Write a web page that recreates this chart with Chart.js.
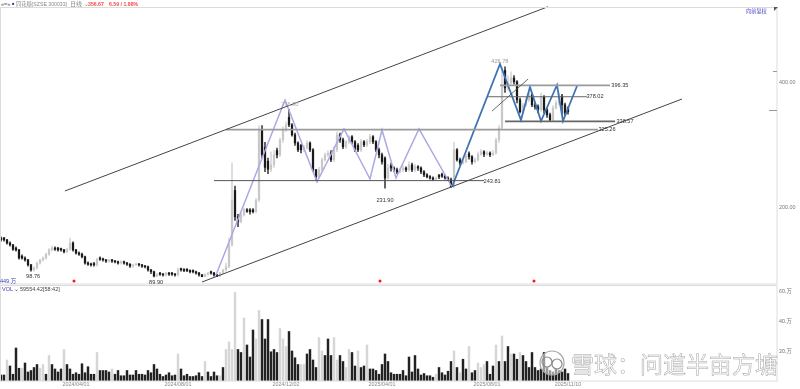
<!DOCTYPE html>
<html>
<head>
<meta charset="utf-8">
<script src="https://cdn.jsdelivr.net/npm/chart.js@4"></script>
<style>
  html, body { margin: 0; background: #fff; }
  #page { position: relative; width: 800px; height: 389px; overflow: hidden; font-family: "Liberation Sans", "Noto Sans CJK SC", sans-serif; }
  canvas { position: absolute; left: 0; }
  .t { position: absolute; white-space: nowrap; font-size: 5.5px; line-height: 8px; color: #888; }
  .mark { position: absolute; left: 774px; top: 7px; width: 0; height: 0; border-left: 4px solid #555; border-bottom: 4px solid transparent; }
  #wm { position: absolute; left: 571px; top: 350px; font: 23px/26px "Noto Sans CJK SC", sans-serif; color: rgba(255,255,255,.75); -webkit-text-stroke: .5px #a4a4a4; white-space: nowrap; }
  #logo { position: absolute; left: 538px; top: 349px; }
</style>
</head>
<body>
<div id="page">
  <canvas id="mainChart" width="800" height="285" style="top:0"></canvas>
  <canvas id="volChart" width="800" height="104" style="top:285px"></canvas>

  <div class="t" style="left:1px;top:0;color:#555">«=»</div>
  <div class="t" style="left:12px;top:0;color:#1b3f9a;font-size:4px">■</div>
  <div class="t" style="left:16px;top:0;font-size:5.2px">同花顺(SZSE 300033)</div>
  <div class="t" style="left:70px;top:0;font-size:6px">日线 ⌄</div>
  <div class="t" style="left:88px;top:0;color:#f04b4b;font-weight:bold;font-size:5.2px">356.67</div>
  <div class="t" style="left:109px;top:0;color:#f04b4b;font-weight:bold;font-size:5.2px">6.59 / 1.88%</div>
  <div class="t" style="left:746px;top:7px;color:#4a4ac0;font-size:5.2px">向前复权</div>
  <div class="mark"></div>
  <div class="t" style="left:0;top:277px;color:#3a3ab0">449.万</div>
  <div class="t" style="left:2px;top:285px;color:#3a3ab0">VOL ⌄</div>
  <div class="t" style="left:20px;top:285px;color:#444">59554.42[58:42]</div>

  <svg id="logo" width="30" height="30" viewBox="0 0 30 30">
    <circle cx="14" cy="14" r="12" fill="rgba(255,255,255,.55)" stroke="#a4a4a4" stroke-width="1.2"/>
    <circle cx="9" cy="13" r="5" fill="none" stroke="#8a8a8a" stroke-width="1.2"/>
    <circle cx="19" cy="15" r="5" fill="none" stroke="#8a8a8a" stroke-width="1.2"/>
  </svg>
  <div id="wm">雪球：问道半亩方塘</div>
</div>

<script>
// one bar every few sessions
const opens = [
  152,152,149,144,141,136,133,123,120,117,
  109,101,104,112,117,120,126,133,136,136,
  135,133,130,134,144,133,128,126,122,112,
  110,111,109,120,118,117,115,117,115,114,
  112,114,112,110,107,109,110,109,107,106,
  101,98,91,96,94,93,96,96,94,93,
  103,101,102,100,100,98,96,93,90,94,
  98,96,93,91,96,101,106,141,228,186,
  178,189,197,197,197,194,213,325,297,275,
  262,269,292,285,309,325,345,333,317,304,
  300,293,296,304,293,261,250,261,277,285,
  288,277,293,317,309,298,306,314,306,300,
  293,306,301,306,314,306,293,285,280,248,
  268,264,261,258,261,264,261,269,261,266,
  264,258,253,250,248,246,252,254,251,248,
  245,236,293,277,272,274,287,282,274,277,
  286,290,286,288,285,288,309,328,420,392,
  400,408,402,373,354,365,373,381,365,362,
  357,378,357,349,341,360,368,379,365,360
];
const closes = [
  149,149,144,141,134,133,120,120,117,109,
  101,104,112,117,120,126,133,136,134,133,
  133,130,134,144,133,128,126,122,112,110,
  109,109,118,118,117,115,117,115,114,112,
  114,112,110,107,109,110,109,107,106,101,
  98,91,94,94,93,96,94,94,93,101,
  101,100,100,98,98,96,93,90,94,96,
  96,93,91,96,101,106,141,213,186,178,
  189,197,195,194,194,213,325,285,265,262,
  269,285,285,309,325,333,333,317,304,293,
  293,296,304,293,261,250,261,277,285,288,
  277,293,317,309,298,306,314,306,293,293,
  306,301,306,314,306,293,285,274,248,264,
  264,261,258,261,264,261,269,261,266,264,
  258,253,250,248,246,248,250,251,248,245,
  234,293,277,272,274,283,282,274,277,286,
  290,286,288,285,288,309,328,397,392,400,
  408,402,373,354,365,373,381,365,362,357,
  378,357,349,341,360,368,379,365,352,354
];
const highs = [
  154,153,150,146,142,138,134,125,122,118,
  110,106,114,118,122,128,135,139,138,137,
  136,134,136,152,146,134,130,128,123,114,
  112,113,120,122,120,118,118,118,116,115,
  116,115,113,111,110,111,111,110,108,107,
  102,99,95,97,95,97,97,97,95,104,
  104,103,103,101,101,99,97,94,95,97,
  99,97,94,97,102,112,152,272,235,190,
  192,200,199,199,199,215,332,332,305,280,
  290,292,296,312,330,338,358,335,320,306,
  302,300,308,306,295,262,265,280,288,292,
  292,298,322,320,312,308,316,316,308,303,
  310,308,310,318,316,308,296,288,282,270,
  272,266,264,264,268,266,274,272,270,268,
  266,260,255,252,250,250,254,256,253,250,
  248,305,295,280,278,286,290,284,280,290,
  294,292,291,290,292,312,332,425,426,412,
  418,412,404,376,368,378,386,383,368,365,
  384,380,360,352,364,372,384,382,368,362
];
const lows = [
  147,147,142,139,132,131,118,118,115,107,
  98.76,99,102,110,115,118,124,131,132,131,
  131,128,128,132,131,126,124,120,110,108,
  107,107,107,116,115,113,113,113,112,110,
  110,110,108,105,105,108,107,105,104,99,
  95,89.9,90,92,91,91,92,92,91,91,
  99,98,98,96,96,94,91,90.5,90,92,
  94,91,90,90,94,99,104,139,180,170,
  176,187,193,190,192,192,210,280,258,255,
  258,265,280,282,305,322,330,315,300,290,
  288,290,294,290,258,245,248,258,275,282,
  274,274,290,305,295,295,303,303,290,290,
  290,298,298,303,303,290,280,270,231.9,246,
  259,258,255,256,258,258,259,258,258,260,
  255,250,248,246,244,244,247,249,246,243.81,
  233,232,275,268,270,272,278,270,272,275,
  284,282,284,282,284,286,305,326,385,388,
  398,398,368,352,352,363,370,362,358,352,
  355,352,345,338.57,339,358,365,350,348,350
];
// 万
const volumes = [
  4,4,14,10,4.5,22,8.5,8.5,12,6,
  7,9,11,8.5,11,4.5,17,11,8,6,
  8,21,11,8,4.5,5.5,4.5,11.5,5.5,9.5,
  4.5,4.5,19,7,7,7,6,8,4.5,7,
  3.5,3.5,7,4,4,7,4.5,4.5,4,7,
  5.5,11,8,4.5,3,4,5.5,3.5,4,18,
  8,3.5,4.5,3,3,3.5,5.5,3,13,6,
  3,6,3.5,3.5,9,21,26,21,59,21,
  19,42,24,16,34,28,47,41,28,41,
  19.5,21,19,35,28,23,33,20,15.5,11,
  11,11,18,21,14,9,29,20,17,28,
  17,29,14,17,13,9,21,19,10,20,
  9,10,24,8,8,7,4.5,11,18,13,
  5.5,4.5,4.5,4.5,7,3.5,16,6,17,8,
  4,5,3.5,3.5,2.5,4.5,9,5.5,4,6.5,
  13,20,9,5.5,14.5,8,23,5.5,7,12,
  9,11,13,4.5,10,24,13,30,13,23,
  18,18,14.5,19,17,13,9,19,9,7,
  8,19,9,7,6,8,7,6,8,5
];
// the pale volume bars, the rest are black
const paleVolumeBars = [
  2, 7, 13, 14, 16, 21, 32, 37, 59, 68, 73, 75, 76, 77, 78, 81, 85, 86,
  93, 94, 95, 100, 101, 106, 107, 111, 112, 115, 116, 119, 122, 145, 151,
  153, 156, 159, 160, 161, 165, 167, 170, 173
];

const dateBars = [25, 59, 95, 127, 162, 189];
const dateLabels = ["2024/04/01", "2024/08/01", "2024/12/02", "2025/04/01", "2025/08/01", "2025/11/10"];

const priceTicks = [400, 200];
const volTicks = [20, 40, 60];

// drawn lines, bar number + price
const upperChannelBars = [21.3, 182.3], upperChannelPrices = [227.2, 522];
const lowerChannelBars = [67, 227], lowerChannelPrices = [81.6, 374.4];
const shortTrendBars = [163.7, 175.7], shortTrendPrices = [355.2, 406.4];
const lavenderBars = [71.67, 94.67, 105.33, 114.33, 123, 127, 131.67, 139.33, 150.33];
const lavenderPrices = [92.8, 372.8, 241.6, 326.4, 246.4, 324.8, 248, 326.4, 233.6];
const blueBars = [150.33, 166.33, 173.33, 176.33, 180, 185.33, 187.33, 192];
const bluePrices = [233.6, 430.4, 340.8, 393.6, 339.2, 396.8, 339.2, 395.2];

// level, first bar, last bar
const levelPrices = [325.26, 243.81, 396.35, 378.02, 338.57];
const levelStarts = [75, 71, 166.3, 162, 168];
const levelEnds = [199, 161, 203, 195.3, 204.7];
const levelColors = ["#9a9a9a", "#555", "#9a9a9a", "#666", "#666"];
const levelWidths = [1.8, 1, 1.8, 1, 1.6];

const noteBars = [10.7, 51.7, 128, 163.7, 166.3, 206.3, 198, 208, 202, 96.3];
const notePrices = [91.2, 81.5, 212, 243, 434, 396.35, 378, 338.57, 325.26, 365];
const noteTexts = ["98.76", "89.90", "231.90", "243.81", "426.78", "396.35", "378.02", "338.57", "325.26", "366.30"];
const noteColors = ["#333", "#333", "#333", "#333", "#999", "#333", "#333", "#333", "#333", "#aaa"];

const signalBars = [24.33, 126.33, 177.67];
const signalPrices = [83.2, 83.2, 83.2];

const lastPrice = 356.67;

const UP = "#c8c8c8";
const DOWN = "#1a1a1a";
const candleColors = closes.map((c, i) => (c >= opens[i] ? UP : DOWN));
const wickColors = closes.map((c, i) => (c >= opens[i] ? "#d8d8d8" : "#444"));
const volumeColors = volumes.map((v, i) => (paleVolumeBars.includes(i) ? "#d6d6d6" : "#222"));

function pts(xs, ys) {
  return xs.map((x, i) => ({ x: x, y: ys[i] }));
}

function lineSet(xs, ys, color, width) {
  return {
    type: "line",
    data: pts(xs, ys),
    borderColor: color,
    borderWidth: width,
    pointRadius: 0,
    tension: 0,
    order: 0,
    clip: false,
  };
}

// the tick labels must not eat into the plot height
function fitRightAxis(axis) {
  axis.width = 23;
  axis.paddingTop = 0;
  axis.paddingBottom = 0;
}

const axisX = {
  type: "linear",
  min: -1 / 3,
  max: 776 / 3,
  offset: false,
  grid: { display: false, drawTicks: false },
  border: { display: false },
};

const framePlugin = {
  id: "frame",
  afterDatasetsDraw(chart) {
    const a = chart.chartArea;
    const c = chart.ctx;
    c.save();
    c.strokeStyle = "#dcdcdc";
    c.lineWidth = 1;
    c.strokeRect(a.left + 0.5, a.top + 0.5, a.right - a.left - 0.5, a.bottom - a.top - 0.5);
    c.restore();
  },
};

const notePlugin = {
  id: "notes",
  afterDatasetsDraw(chart) {
    const c = chart.ctx;
    const sx = chart.scales.x;
    const sy = chart.scales.y;
    c.save();
    c.font = '5.6px "Liberation Sans"';
    c.textAlign = "center";
    c.textBaseline = "middle";
    noteTexts.forEach((t, i) => {
      const x = sx.getPixelForValue(noteBars[i]);
      const y = sy.getPixelForValue(notePrices[i]);
      c.fillStyle = noteColors[i];
      c.fillText(t, x, y);
    });
    // short marks inside the right axis
    c.strokeStyle = "#999";
    [[419, 4], [lastPrice, 8]].forEach(m => {
      const y = Math.round(sy.getPixelForValue(m[0])) + 0.5;
      c.beginPath();
      c.moveTo(chart.chartArea.right - m[1], y);
      c.lineTo(chart.chartArea.right, y);
      c.stroke();
    });
    c.restore();
  },
};

const levelSets = levelPrices.map((p, i) =>
  lineSet([levelStarts[i], levelEnds[i]], [p, p], levelColors[i], levelWidths[i])
);

new Chart(document.getElementById("mainChart"), {
  type: "bar",
  data: {
    datasets: [
      lineSet(upperChannelBars, upperChannelPrices, "#444", 1),
      lineSet(lowerChannelBars, lowerChannelPrices, "#444", 1),
      lineSet(shortTrendBars, shortTrendPrices, "#444", 0.8),
      ...levelSets,
      lineSet(lavenderBars, lavenderPrices, "#a9a9e4", 1.5),
      lineSet(blueBars, bluePrices, "#3f73b4", 1.8),
      {
        type: "line",
        data: pts(signalBars, signalPrices),
        showLine: false,
        pointRadius: 1.5,
        pointBackgroundColor: "#f01818",
        pointBorderWidth: 0,
        order: 0,
      },
      {
        data: closes.map((c, i) => ({ x: i, y: [opens[i], c] })),
        backgroundColor: candleColors,
        barThickness: 1.6,
        minBarLength: 1,
        grouped: false,
        order: 1,
      },
      {
        data: closes.map((c, i) => ({ x: i, y: [lows[i], highs[i]] })),
        backgroundColor: wickColors,
        barThickness: 1,
        grouped: false,
        order: 2,
      },
    ],
  },
  options: {
    responsive: false,
    animation: false,
    layout: { autoPadding: false, padding: { top: 7, bottom: 1 } },
    plugins: { legend: { display: false }, tooltip: { enabled: false } },
    scales: {
      x: { ...axisX, display: false },
      y: {
        position: "right",
        min: 78.4,
        max: 521.6,
        grid: { display: false, drawTicks: false },
        border: { display: false },
        afterFit: fitRightAxis,
        afterBuildTicks(axis) { axis.ticks = priceTicks.map(v => ({ value: v })); },
        ticks: {
          padding: 2,
          color: "#777",
          font: { size: 5.4, family: "Liberation Sans" },
          callback: v => Number(v).toFixed(2),
        },
      },
    },
  },
  plugins: [framePlugin, notePlugin],
});

new Chart(document.getElementById("volChart"), {
  type: "bar",
  data: {
    datasets: [{
      data: volumes.map((v, i) => ({ x: i, y: v })),
      backgroundColor: volumeColors,
      barThickness: 1.8,
    }],
  },
  options: {
    responsive: false,
    animation: false,
    layout: { autoPadding: false },
    plugins: { legend: { display: false }, tooltip: { enabled: false } },
    scales: {
      x: {
        ...axisX,
        afterFit(axis) { axis.height = 8; },
        afterBuildTicks(axis) { axis.ticks = dateBars.map(v => ({ value: v })); },
        ticks: {
          autoSkip: false,
          maxRotation: 0,
          padding: 0,
          color: "#888",
          font: { size: 5.4, family: "Liberation Sans" },
          callback: v => dateLabels[dateBars.indexOf(v)],
        },
      },
      y: {
        position: "right",
        min: 0,
        max: 64,
        grid: { display: false, drawTicks: false },
        border: { display: false },
        afterFit: fitRightAxis,
        afterBuildTicks(axis) { axis.ticks = volTicks.map(v => ({ value: v })); },
        ticks: {
          padding: 2,
          color: "#777",
          font: { size: 5.4, family: "Noto Sans CJK SC" },
          callback: v => v + ".万",
        },
      },
    },
  },
  plugins: [framePlugin],
});
</script>
</body>
</html>
